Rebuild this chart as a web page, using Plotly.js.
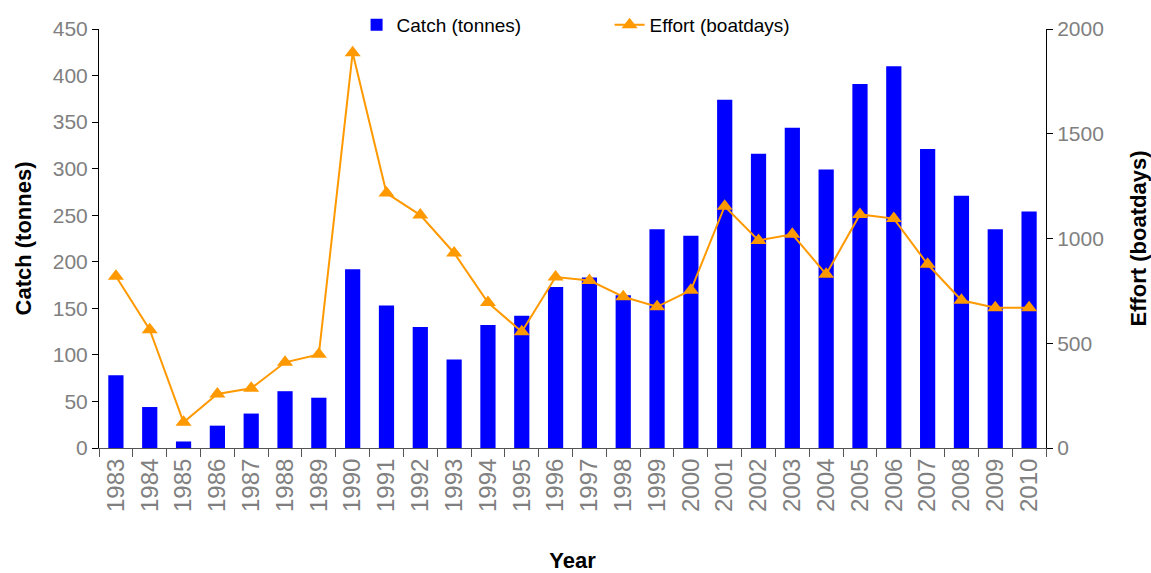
<!DOCTYPE html>
<html>
<head>
<meta charset="utf-8">
<script src="https://cdn.plot.ly/plotly-3.0.1.min.js"></script>
<style>
  body { margin: 0; background: #fff; }
  #chart { width: 1151px; height: 573px; }
</style>
</head>
<body>
<div id="chart"></div>
<script>
var years = ["1983", "1984", "1985", "1986", "1987", "1988", "1989", "1990", "1991", "1992",
             "1993", "1994", "1995", "1996", "1997", "1998", "1999", "2000", "2001", "2002",
             "2003", "2004", "2005", "2006", "2007", "2008", "2009", "2010"];

// catch in tonnes, left axis
var catchTonnes = [78, 44, 7, 24, 37, 61, 54, 192, 153, 130,
                   95, 132, 142, 173, 183, 164, 235, 228, 374, 316,
                   344, 299, 391, 410, 321, 271, 235, 254];

// effort in boatdays, right axis
var effortDays = [820, 565, 123, 258, 285, 409, 447, 1887, 1217, 1112,
                  931, 694, 555, 816, 800, 722, 674, 753, 1154, 991,
                  1020, 829, 1115, 1095, 877, 705, 670, 670];

var grey = "#808080";
var fontFamily = "Liberation Sans, Arial, sans-serif";

var catchTrace = {
  x: years,
  y: catchTonnes,
  type: "bar",
  name: "Catch (tonnes)",
  width: 0.45,
  marker: { color: "#0000FF" }
};

var effortTrace = {
  x: years,
  y: effortDays,
  type: "scatter",
  mode: "lines+markers",
  name: "Effort (boatdays)",
  yaxis: "y2",
  line: { color: "#FF9900", width: 2 },
  marker: { symbol: "triangle-up", size: 14, color: "#FF9900" }
};

var layout = {
  width: 1151,
  height: 573,
  // fixed margins, no auto push from legend / titles
  margin: { l: 99, r: 105, t: 29, b: 125, autoexpand: false },
  paper_bgcolor: "#fff",
  plot_bgcolor: "#fff",
  font: { family: fontFamily, color: "#000" },
  showlegend: true,
  legend: {
    orientation: "h",
    x: 0.272,
    y: 1.01,
    yanchor: "middle",
    xanchor: "left",
    font: { size: 19, color: "#000" },
    entrywidth: 208,
    bgcolor: "rgba(0,0,0,0)"
  },
  xaxis: {
    type: "category",
    range: [-0.5, years.length - 0.5],
    automargin: false,
    tickson: "boundaries",
    ticks: "outside",
    ticklen: 8,
    tickcolor: "#555",
    showline: true,
    linecolor: "#555",
    showgrid: false,
    tickangle: -90,
    tickfont: { size: 24, color: grey },
    title: { text: "<b>Year</b>", font: { size: 22, color: "#000" }, standoff: 51 }
  },
  yaxis: {
    range: [0, 450],
    dtick: 50,
    automargin: false,
    ticks: "outside",
    ticklen: 6,
    tickcolor: "#000",
    showline: true,
    linecolor: "#000",
    showgrid: false,
    zeroline: false,
    tickfont: { size: 21, color: grey },
    title: { text: "<b>Catch (tonnes)</b>", font: { size: 22, color: "#000" }, standoff: 15 }
  },
  yaxis2: {
    overlaying: "y",
    side: "right",
    range: [0, 2000],
    dtick: 500,
    automargin: false,
    ticks: "outside",
    ticklen: 6,
    tickcolor: "#000",
    showline: true,
    linecolor: "#000",
    showgrid: false,
    zeroline: false,
    tickfont: { size: 21, color: grey },
    title: { text: "<b>Effort (boatdays)</b>", font: { size: 22, color: "#000" }, standoff: 27 }
  }
};

Plotly.newPlot("chart", [catchTrace, effortTrace], layout, { displayModeBar: false });
</script>
</body>
</html>
